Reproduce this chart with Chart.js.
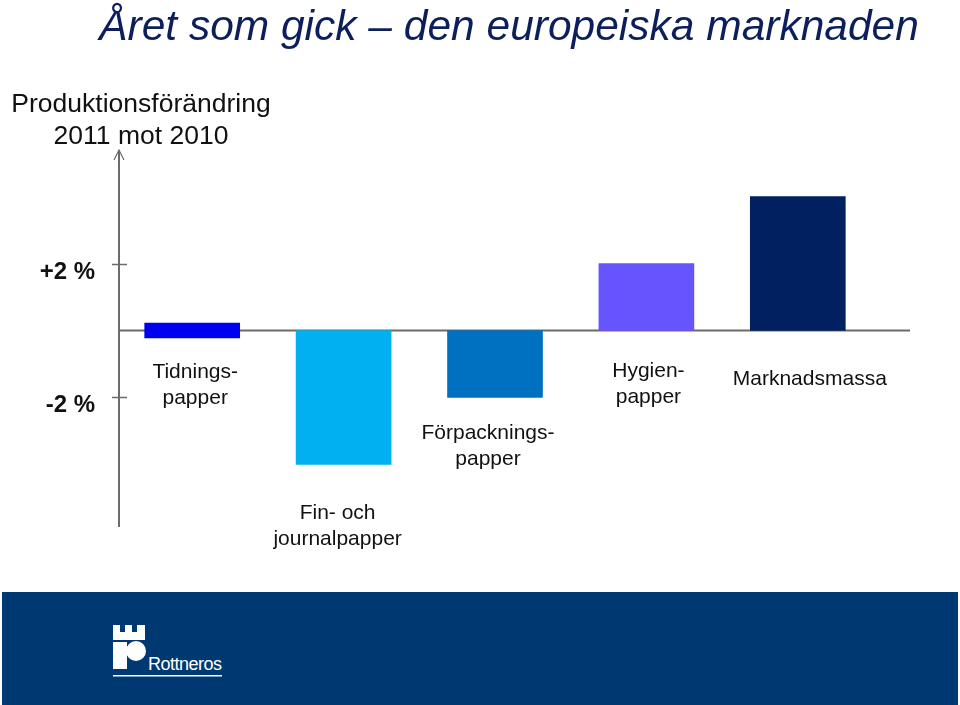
<!DOCTYPE html>
<html>
<head>
<meta charset="utf-8">
<script src="https://cdn.jsdelivr.net/npm/chart.js@4/dist/chart.umd.min.js"></script>
<style>
  html, body { margin: 0; padding: 0; background: #fff; }
  body { width: 960px; height: 705px; position: relative; overflow: hidden; font-family: "Liberation Sans", Arial, sans-serif; }
  #title { position: absolute; left: 0; width: 1018px; top: 2px; text-align: center; font-size: 42.5px; font-style: italic; color: #0c1f5c; white-space: nowrap; }
  #subtitle { position: absolute; left: 0; width: 282px; top: 87px; text-align: center; font-size: 26.5px; line-height: 32px; color: #111; }
  #chartWrap { position: absolute; left: 0; top: 0; width: 960px; height: 590px; }
  #footer { position: absolute; left: 2px; top: 592px; width: 956px; height: 113px; background: #003872; }
</style>
</head>
<body>
<div id="chartWrap"><canvas id="myBarChart" width="960" height="590"></canvas></div>
<div id="title">Året som gick – den europeiska marknaden</div>
<div id="subtitle">Produktionsförändring<br>2011 mot 2010</div>
<div id="footer">
  <svg width="956" height="113" xmlns="http://www.w3.org/2000/svg">
    <g fill="#fff">
      <rect x="111" y="33" width="7" height="8"/>
      <rect x="123" y="33" width="7" height="8"/>
      <rect x="135" y="33" width="8" height="8"/>
      <rect x="111" y="40" width="32" height="8"/>
      <rect x="111" y="50" width="14" height="27"/>
      <circle cx="134" cy="59" r="10"/>
      <rect x="111" y="83" width="109" height="1.5"/>
    </g>
    <text x="146" y="78" fill="#fff" font-family="Liberation Sans, Arial, sans-serif" font-size="18" textLength="74">Rottneros</text>
  </svg>
</div>
<script>
const categories = [
  ['Tidnings-', 'papper'],
  ['Fin- och', 'journalpapper'],
  ['Förpacknings-', 'papper'],
  ['Hygien-', 'papper'],
  ['Marknadsmassa']
];
// förändring i procent (Tidningspapper ~0, ritas som tunn stapel runt noll)
const changes = [[-0.22, 0.22], -4.0, -2.0, 2.0, 4.0];
const barColors = ['#0000f0', '#00b0f0', '#0070c0', '#6655ff', '#002060'];
const yTicks = [2, -2];
const yTickLabels = ['+2 %', '-2 %'];

const axesPlugin = {
  id: 'customAxes',
  beforeDatasetsDraw(chart) {
    const ctx = chart.ctx;
    const y = chart.scales.y;
    const axisX = 119;
    const zero = Math.round(y.getPixelForValue(0)) + 0.5;
    ctx.save();
    ctx.strokeStyle = '#6b6b6b';
    ctx.lineWidth = 2;
    ctx.beginPath();
    ctx.moveTo(axisX, 150);
    ctx.lineTo(axisX, 527);
    ctx.moveTo(axisX, zero);
    ctx.lineTo(910, zero);
    ctx.stroke();
    ctx.lineWidth = 1.2;
    ctx.beginPath();
    ctx.moveTo(axisX - 5, 160);
    ctx.lineTo(axisX, 150);
    ctx.lineTo(axisX + 5, 160);
    ctx.stroke();
    ctx.font = 'bold 24px "Liberation Sans", Arial, sans-serif';
    ctx.fillStyle = '#111';
    ctx.textAlign = 'right';
    ctx.textBaseline = 'middle';
    yTicks.forEach((v, i) => {
      const py = Math.round(y.getPixelForValue(v)) + 0.5;
      ctx.lineWidth = 1.5;
      ctx.beginPath();
      ctx.moveTo(112, py);
      ctx.lineTo(127, py);
      ctx.stroke();
      ctx.fillText(yTickLabels[i], 95, py + 8);
    });
    ctx.restore();
  }
};

const labelPlugin = {
  id: 'barLabels',
  afterDatasetsDraw(chart, args, opts) {
    const ctx = chart.ctx;
    const x = chart.scales.x;
    const y = chart.scales.y;
    ctx.save();
    ctx.font = '21px "Liberation Sans", Arial, sans-serif';
    ctx.fillStyle = '#111';
    ctx.textAlign = 'center';
    ctx.textBaseline = 'middle';
    categories.forEach((lines, i) => {
      const v = changes[i];
      const low = Array.isArray(v) ? Math.min(...v) : Math.min(v, 0);
      const top = y.getPixelForValue(low) + opts.gaps[i];
      const cx = x.getPixelForValue(i) + opts.dx[i];
      lines.forEach((t, j) => ctx.fillText(t, cx, top + j * 26));
    });
    ctx.restore();
  }
};

function createChart() {
  const ctx = document.getElementById('myBarChart').getContext('2d');
  new Chart(ctx, {
    type: 'bar',
    data: {
      labels: categories,
      datasets: [{
        data: changes,
        backgroundColor: barColors,
        borderWidth: 0,
        barThickness: 95
      }]
    },
    options: {
      responsive: false,
      animation: false,
      layout: { padding: { left: 116.5, right: 86.5, top: 150, bottom: 65 } },
      scales: {
        x: { display: false },
        y: { display: false, min: -5.81, max: 5.39 }
      },
      plugins: {
        legend: { display: false },
        tooltip: { enabled: false },
        barLabels: { gaps: [34, 49, 36, 41, 49], dx: [3, -6, -7, 2, 12] }
      }
    },
    plugins: [axesPlugin, labelPlugin]
  });
}

window.onload = createChart;
</script>
</body>
</html>
